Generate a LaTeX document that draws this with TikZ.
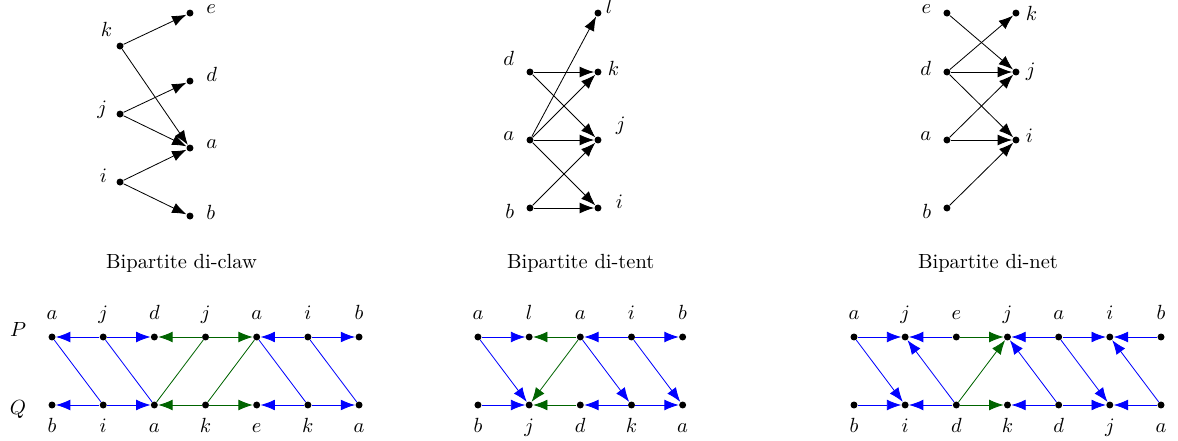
\documentclass[tikz,border=0pt]{standalone}
\usepackage{amsmath, amssymb}
\usepackage{tikz}
\usetikzlibrary{arrows.meta}

\definecolor{dgreen}{RGB}{0,100,0}

\begin{document}
\begin{tikzpicture}[
  x=1.166cm, y=1.166cm,
  dot/.style={circle, fill, inner sep=0pt, minimum size=3.4pt},
  arr/.style={-{Latex[length=7pt]}},
  barr/.style={arr, blue},
  garr/.style={arr, dgreen},
  R/.style n args={3}{label={[anchor=base west, label distance=#2, yshift=#3]right:$#1$}},
  L/.style n args={3}{label={[anchor=base east, label distance=#2, yshift=#3]left:$#1$}},
  U/.style={label={[anchor=base, label distance=6.6pt]above:$#1$}},
  D/.style={label={[anchor=base, label distance=11.3pt]below:$#1$}},
]
\useasboundingbox (0,0) rectangle (17.324,6.471);

% bipartite di-claw
\node[dot, L={k}{-1.6pt}{4.5pt}] (ck) at (1.765,5.794) {};
\node[dot, L={j}{0.9pt}{0pt}] (cj) at (1.765,4.794) {};
\node[dot, L={i}{0.9pt}{0pt}] (ci) at (1.765,3.794) {};
\node[dot, R={e}{2.5pt}{0pt}] (ce) at (2.794,6.279) {};
\node[dot, R={d}{2.5pt}{0pt}] (cd) at (2.794,5.279) {};
\node[dot, R={a}{2.5pt}{0pt}] (ca) at (2.794,4.294) {};
\node[dot, R={b}{2.5pt}{-1.5pt}] (cb) at (2.794,3.294) {};
\draw[arr] (ck) -- (ce);
\draw[arr] (ck) -- (ca);
\draw[arr] (cj) -- (cd);
\draw[arr] (cj) -- (ca);
\draw[arr] (ci) -- (ca);
\draw[arr] (ci) -- (cb);
\node (clawcap) at (2.67,2.60) {Bipartite di-claw};

% bipartite di-tent
\node[dot, L={d}{2.3pt}{3.4pt}] (td) at (7.794,5.412) {};
\node[dot, L={a}{2.3pt}{0pt}] (ta) at (7.794,4.412) {};
\node[dot, L={b}{2.3pt}{-4.9pt}] (tb) at (7.794,3.412) {};
\node[dot, R={l}{-1.6pt}{0pt}] (tl) at (8.794,6.279) {};
\node[dot, R={k}{-0.6pt}{-1.5pt}] (tk) at (8.794,5.412) {};
\node[dot, R={j}{3.3pt}{4.4pt}] (tj) at (8.794,4.412) {};
\node[dot, R={i}{3.3pt}{0pt}] (ti) at (8.794,3.412) {};
\draw[arr] (td) -- (tk);
\draw[arr] (td) -- (tj);
\draw[arr] (ta) -- (tl);
\draw[arr] (ta) -- (tk);
\draw[arr] (ta) -- (tj);
\draw[arr] (ta) -- (ti);
\draw[arr] (tb) -- (tj);
\draw[arr] (tb) -- (ti);
\node (tentcap) at (8.54,2.60) {Bipartite di-tent};

% bipartite di-net
\node[dot, L={e}{2.3pt}{0pt}] (ne) at (13.926,6.279) {};
\node[dot, L={d}{2.3pt}{-1.5pt}] (nd) at (13.926,5.412) {};
\node[dot, L={a}{2.3pt}{0pt}] (na) at (13.926,4.412) {};
\node[dot, L={b}{2.3pt}{-4.9pt}] (nb) at (13.926,3.412) {};
\node[dot, R={k}{-0.6pt}{-3.4pt}] (nk) at (14.941,6.279) {};
\node[dot, R={j}{-0.6pt}{-2pt}] (nj) at (14.941,5.412) {};
\node[dot, R={i}{-0.6pt}{-1pt}] (ni) at (14.941,4.412) {};
\draw[arr] (ne) -- (nj);
\draw[arr] (nd) -- (nk);
\draw[arr] (nd) -- (nj);
\draw[arr] (nd) -- (ni);
\draw[arr] (na) -- (nj);
\draw[arr] (na) -- (ni);
\draw[arr] (nb) -- (ni);
\node (netcap) at (14.53,2.60) {Bipartite di-net};

% row names
\node (P) at (0.265,1.618) {$P$};
\node (Q) at (0.265,0.456) {$Q$};

% di-claw rows
\node[dot, U=a] (cp1) at (0.765,1.515) {};
\node[dot, U=j] (cp2) at (1.518,1.515) {};
\node[dot, U=d] (cp3) at (2.270,1.515) {};
\node[dot, U=j] (cp4) at (3.023,1.515) {};
\node[dot, U=a] (cp5) at (3.775,1.515) {};
\node[dot, U=i] (cp6) at (4.528,1.515) {};
\node[dot, U=b] (cp7) at (5.280,1.515) {};
\node[dot, D=b] (cq1) at (0.765,0.515) {};
\node[dot, D=i] (cq2) at (1.518,0.515) {};
\node[dot, D=a] (cq3) at (2.270,0.515) {};
\node[dot, D=k] (cq4) at (3.023,0.515) {};
\node[dot, D=e] (cq5) at (3.775,0.515) {};
\node[dot, D=k] (cq6) at (4.528,0.515) {};
\node[dot, D=a] (cq7) at (5.280,0.515) {};
\draw[barr] (cp2) -- (cp1);
\draw[barr] (cp2) -- (cp3);
\draw[garr] (cp4) -- (cp3);
\draw[garr] (cp4) -- (cp5);
\draw[barr] (cp6) -- (cp5);
\draw[barr] (cp6) -- (cp7);
\draw[barr] (cq2) -- (cq1);
\draw[barr] (cq2) -- (cq3);
\draw[garr] (cq4) -- (cq3);
\draw[garr] (cq4) -- (cq5);
\draw[barr] (cq6) -- (cq5);
\draw[barr] (cq6) -- (cq7);
\draw[blue] (cp1) -- (cq2);
\draw[blue] (cp2) -- (cq3);
\draw[dgreen] (cp4) -- (cq3);
\draw[dgreen] (cp5) -- (cq4);
\draw[blue] (cp5) -- (cq6);
\draw[blue] (cp6) -- (cq7);

% di-tent rows
\node[dot, U=a] (tp1) at (7.029,1.515) {};
\node[dot, U=l] (tp2) at (7.782,1.515) {};
\node[dot, U=a] (tp3) at (8.534,1.515) {};
\node[dot, U=i] (tp4) at (9.287,1.515) {};
\node[dot, U=b] (tp5) at (10.039,1.515) {};
\node[dot, D=b] (tq1) at (7.029,0.515) {};
\node[dot, D=j] (tq2) at (7.782,0.515) {};
\node[dot, D=d] (tq3) at (8.534,0.515) {};
\node[dot, D=k] (tq4) at (9.287,0.515) {};
\node[dot, D=a] (tq5) at (10.039,0.515) {};
\draw[barr] (tp1) -- (tp2);
\draw[garr] (tp3) -- (tp2);
\draw[barr] (tp4) -- (tp3);
\draw[barr] (tp4) -- (tp5);
\draw[barr] (tq1) -- (tq2);
\draw[garr] (tq3) -- (tq2);
\draw[barr] (tq4) -- (tq3);
\draw[barr] (tq4) -- (tq5);
\draw[barr] (tp1) -- (tq2);
\draw[garr] (tp3) -- (tq2);
\draw[barr] (tp3) -- (tq4);
\draw[barr] (tp4) -- (tq5);

% di-net rows
\node[dot, U=a] (np1) at (12.559,1.515) {};
\node[dot, U=j] (np2) at (13.311,1.515) {};
\node[dot, U=e] (np3) at (14.064,1.515) {};
\node[dot, U=j] (np4) at (14.816,1.515) {};
\node[dot, U=a] (np5) at (15.569,1.515) {};
\node[dot, U=i] (np6) at (16.321,1.515) {};
\node[dot, U=b] (np7) at (17.074,1.515) {};
\node[dot, D=b] (nq1) at (12.559,0.515) {};
\node[dot, D=i] (nq2) at (13.311,0.515) {};
\node[dot, D=d] (nq3) at (14.064,0.515) {};
\node[dot, D=k] (nq4) at (14.816,0.515) {};
\node[dot, D=d] (nq5) at (15.569,0.515) {};
\node[dot, D=j] (nq6) at (16.321,0.515) {};
\node[dot, D=a] (nq7) at (17.074,0.515) {};
\draw[barr] (np1) -- (np2);
\draw[barr] (np3) -- (np2);
\draw[garr] (np3) -- (np4);
\draw[barr] (np5) -- (np4);
\draw[barr] (np5) -- (np6);
\draw[barr] (np7) -- (np6);
\draw[barr] (nq1) -- (nq2);
\draw[barr] (nq3) -- (nq2);
\draw[garr] (nq3) -- (nq4);
\draw[barr] (nq5) -- (nq4);
\draw[barr] (nq5) -- (nq6);
\draw[barr] (nq7) -- (nq6);
\draw[barr] (np1) -- (nq2);
\draw[barr] (nq3) -- (np2);
\draw[garr] (nq3) -- (np4);
\draw[barr] (nq5) -- (np4);
\draw[barr] (np5) -- (nq6);
\draw[barr] (nq7) -- (np6);
\end{tikzpicture}
\end{document}
